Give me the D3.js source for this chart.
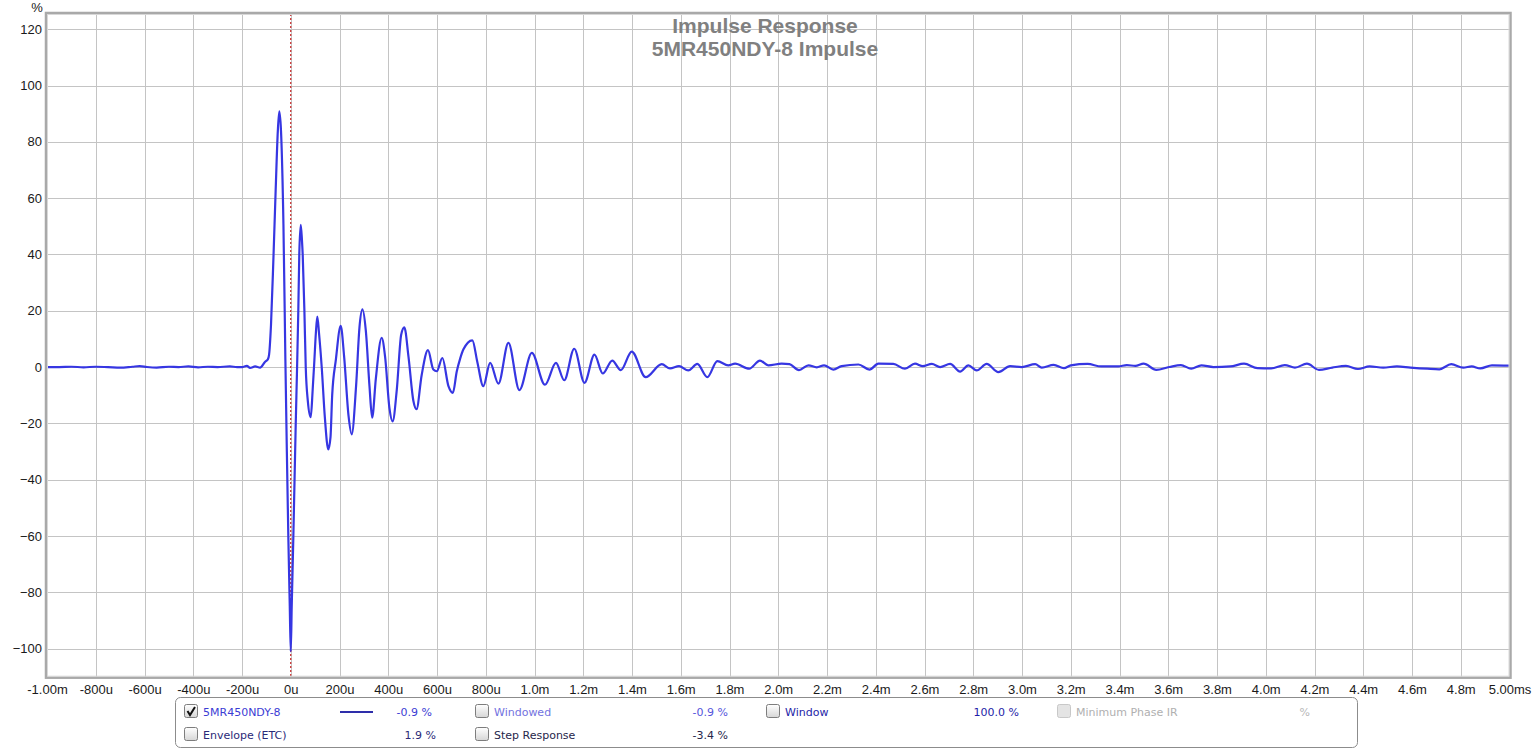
<!DOCTYPE html>
<html>
<head>
<meta charset="utf-8">
<script src="https://cdn.jsdelivr.net/npm/d3@7/dist/d3.min.js"></script>
<style>
  html, body { margin: 0; padding: 0; background: #ffffff; }
  svg { display: block; font-family: "Liberation Sans", Arial, sans-serif; }
</style>
</head>
<body>
<svg id="chart" width="1532" height="749"></svg>
<script>
// ---------------- DATA ----------------
const titleLines = ["Impulse Response", "5MR450NDY-8 Impulse"];
const yUnit = "%";

// time in microseconds
const timeUs = [
  -1000, -950, -900, -850, -800, -750, -700, -650, -620, -590, -550, -500, -460, -420, -380, -340, -300, -250, -220, -200,
  -180, -167, -146, -126, -105, -94, -89, -81, -71, -62, -53, -47, -40, -30, -22, -16, -10, -4, 0,
  4, 10.7, 20.5, 26, 31, 35, 41, 46, 49, 56, 61.5, 70, 82, 90, 97, 103, 109, 116, 127, 140, 154, 163, 170, 185,
  205, 219, 237, 250, 268, 282, 294, 308, 323, 334, 349, 373, 387, 405, 418, 435, 453, 466, 483, 503, 516, 537,
  563, 585, 599, 622, 647, 665, 681, 695, 708, 745, 765, 790, 818, 852, 893, 938, 989, 1043, 1088, 1122, 1163,
  1205, 1246, 1280, 1319, 1354, 1399, 1456, 1522, 1556, 1593, 1631, 1668, 1709, 1750, 1795, 1823, 1881, 1925,
  1959, 2014, 2046, 2085, 2124, 2158, 2188, 2226, 2260, 2329, 2374, 2411, 2472, 2520, 2561, 2593, 2630, 2664,
  2705, 2746, 2780, 2814, 2855, 2903, 2951, 2999, 3054, 3081, 3130, 3172, 3200, 3269, 3325, 3395, 3430, 3465,
  3499, 3551, 3604, 3652, 3694, 3736, 3785, 3855, 3911, 3966, 4022, 4078, 4120, 4169, 4218, 4273, 4329, 4378,
  4426, 4482, 4538, 4594, 4663, 4712, 4761, 4810, 4845, 4880, 4928, 5000
];
// impulse amplitude in %
const amplitude = [
  0, 0, 0.1, -0.1, 0.1, 0, -0.2, 0.1, 0.3, 0, -0.2, 0.1, 0, 0.2, -0.1, 0.1, 0, 0.2, 0, 0,
  0.4, -0.3, 0.2, -0.2, 1.9, 2.7, 4.3, 15, 38.8, 62.5, 83.9, 90.8, 83.9, 50.6, 2.5, -30, -60, -85, -101,
  -85, -60, -20, 0, 20, 40, 50.5, 45, 40, 20, 0, -12, -17.8, -8, 2.5, 12, 17.9, 12, 0, -18, -29.3, -25, -10, 2.5,
  14.6, 3.7, -17.3, -23.9, -6.8, 14.2, 20.5, 12.9, -6.8, -18, -4.2, 10.4, 3.7, -14.7, -19.3, -8.1, 11.5, 14.1, 3.7, -12, -15, -2.9,
  6.0, -0.9, -1.5, 3.2, -6.8, -9.2, -1.6, 3.0, 6.2, 9.5, 2, -6.8, 1.5, -5.9, 8.6, -8.2, 5.0, -6.3, 1.5, -4.7, 6.5,
  -5.6, 4.4, -2.3, 2.3, -1.1, 5.5, -3.6, 1.0, -0.5, 0.3, -1.2, 1.1, -3.6, 2.1, 0.6, 1.2, -0.6, 2.3,
  0.6, 1.2, 1.0, -1.1, 0.6, -0.1, 0.6, -0.9, 0.3, 0.9, -0.9, 1.2, 1.1, -0.6, 1.2, 0.3, 1.1, 0,
  1.1, -1.6, 0.6, -1.2, 1.1, -1.8, 0.3, 0, 1.0, -0.2, 0.8, -0.4, 0.6, 1.1, 0.2, 0.2, 0.7, 0.4,
  1.2, -1.0, 0, 0.7, -0.6, 0.6, 0, 0.2, 1.2, -0.4, -0.5, 0.7, -0.2, 1.2, -1.0, -0.2, 0.4, -0.7,
  0.2, -0.2, 0.2, -0.2, -0.6, -0.8, 1.0, -0.2, 0.2, -0.5, 0.6, 0.5
];

const xTickValues = [-1000, -800, -600, -400, -200, 0, 200, 400, 600, 800, 1000, 1200, 1400, 1600, 1800, 2000,
  2200, 2400, 2600, 2800, 3000, 3200, 3400, 3600, 3800, 4000, 4200, 4400, 4600, 4800, 5000];
const xTickLabels = ["-1.00m", "-800u", "-600u", "-400u", "-200u", "0u", "200u", "400u", "600u", "800u", "1.0m",
  "1.2m", "1.4m", "1.6m", "1.8m", "2.0m", "2.2m", "2.4m", "2.6m", "2.8m", "3.0m", "3.2m", "3.4m", "3.6m", "3.8m",
  "4.0m", "4.2m", "4.4m", "4.6m", "4.8m", "5.00ms"];
const yTickValues = [-100, -80, -60, -40, -20, 0, 20, 40, 60, 80, 100, 120];
const yDomain = [-110, 125.4];

// legend contents
const legendLabels = ["5MR450NDY-8", "Windowed", "Window", "Minimum Phase IR", "Envelope (ETC)", "Step Response"];
const legendValues = ["-0.9 %", "-0.9 %", "100.0 %", "%", "1.9 %", "-3.4 %"];
const legendChecked = [true, false, false, false, false, false];
const legendEnabled = [true, true, true, false, true, true];

// ---------------- LAYOUT ----------------
const svg = d3.select("#chart");
const plot = { left: 47, right: 1509.5, top: 14, bottom: 676.7 };

const x = d3.scaleLinear().domain([-1000, 5000]).range([plot.left, plot.right]);
const y = d3.scaleLinear().domain(yDomain).range([plot.bottom, plot.top]);

// plot background
svg.append("rect").attr("x", plot.left).attr("y", plot.top)
  .attr("width", plot.right - plot.left).attr("height", plot.bottom - plot.top)
  .attr("fill", "#ffffff");

// vertical grid + x labels
const xAxis = d3.axisBottom(x).tickValues(xTickValues)
  .tickFormat((d, i) => xTickLabels[i])
  .tickSize(-(plot.bottom - plot.top)).tickPadding(8);
const gx = svg.append("g").attr("transform", `translate(0,${plot.bottom})`).call(xAxis);
gx.select(".domain").remove();
gx.selectAll("line").attr("stroke", "#c4c4c4").attr("stroke-width", 1)
  .attr("shape-rendering", "crispEdges");
gx.selectAll("text").attr("font-size", 13).attr("fill", "#1a1a1a")
  .attr("font-family", "'Liberation Sans', Arial, sans-serif");

// horizontal grid + y labels
const yAxis = d3.axisLeft(y).tickValues(yTickValues)
  .tickSize(-(plot.right - plot.left)).tickPadding(5);
const gy = svg.append("g").attr("transform", `translate(${plot.left},0)`).call(yAxis);
gy.select(".domain").remove();
gy.selectAll("line").attr("stroke", "#c4c4c4").attr("stroke-width", 1)
  .attr("shape-rendering", "crispEdges");
gy.selectAll("text").attr("font-size", 13).attr("fill", "#1a1a1a")
  .attr("font-family", "'Liberation Sans', Arial, sans-serif");

// unit label
svg.append("text").attr("x", 37).attr("y", 11.5).attr("text-anchor", "middle")
  .attr("font-size", 13).attr("fill", "#1a1a1a").text(yUnit);

// title
svg.selectAll("text.title").data(titleLines).enter().append("text")
  .attr("class", "title")
  .attr("x", 765).attr("y", (d, i) => 33 + i * 23)
  .attr("text-anchor", "middle").attr("font-size", 21).attr("font-weight", "bold")
  .attr("fill", "#808080").text(d => d);

// red dashed zero-time marker
svg.append("line").attr("x1", x(0)).attr("x2", x(0))
  .attr("y1", plot.top).attr("y2", plot.bottom)
  .attr("stroke", "#c00000").attr("stroke-width", 1).attr("stroke-dasharray", "2,2");

// impulse curve
const pts = timeUs.map((t, i) => [t, amplitude[i]]);
const line = d3.line().x(d => x(d[0])).y(d => y(d[1])).curve(d3.curveMonotoneX);
svg.append("path").datum(pts).attr("d", line)
  .attr("fill", "none").attr("stroke", "#3636e2").attr("stroke-width", 2.2)
  .attr("stroke-linejoin", "round");

// frame
svg.append("rect").attr("x", plot.left - 1).attr("y", plot.top - 1)
  .attr("width", plot.right - plot.left + 2).attr("height", plot.bottom - plot.top + 2)
  .attr("fill", "none").attr("stroke", "#a9a9a9").attr("stroke-width", 2.5);
svg.append("rect").attr("x", plot.left + 0.5).attr("y", plot.top + 0.5)
  .attr("width", plot.right - plot.left - 1).attr("height", plot.bottom - plot.top - 1)
  .attr("fill", "none").attr("stroke", "#d8d8d8").attr("stroke-width", 1);

// ---------------- LEGEND ----------------
const defs = svg.append("defs");
const grad = defs.append("linearGradient").attr("id", "cbGrad").attr("x1", 0).attr("y1", 0).attr("x2", 0).attr("y2", 1);
grad.append("stop").attr("offset", "0%").attr("stop-color", "#ffffff");
grad.append("stop").attr("offset", "100%").attr("stop-color", "#d6d6d6");

svg.append("rect").attr("x", 175.5).attr("y", 697.5).attr("width", 1182).attr("height", 50)
  .attr("rx", 5).attr("ry", 5).attr("fill", "#ffffff").attr("stroke", "#8c8c8c").attr("stroke-width", 1);

// slot positions: [checkbox x, label x, value right x, row y]
const slots = [
  [184, 203, 432, 712],
  [475, 494, 728, 712],
  [766, 785, 1019, 712],
  [1057, 1076, 1310, 712],
  [184, 203, 436, 735],
  [475, 494, 728, 735]
];
const labelColors = ["#3c3cd4", "#7272e0", "#1e1ea8", "#b0b0b0", "#2a2a78", "#26264a"];
const valueColors = ["#3c3cd4", "#5555dc", "#1e1ea8", "#b8b8b8", "#2a2a78", "#26264a"];

legendLabels.forEach((lab, i) => {
  const [cx, lx, vx, ry] = slots[i];
  const g = svg.append("g");
  g.append("rect").attr("x", cx + 0.5).attr("y", ry - 7.5).attr("width", 13).attr("height", 13)
    .attr("rx", 2).attr("fill", legendEnabled[i] ? "url(#cbGrad)" : "#e4e4e4")
    .attr("stroke", legendEnabled[i] ? "#7d7d7d" : "#c8c8c8");
  if (legendChecked[i]) {
    g.append("path")
      .attr("d", `M${cx + 3.5},${ry - 1} L${cx + 6},${ry + 3} L${cx + 11},${ry - 5}`)
      .attr("fill", "none").attr("stroke", "#111").attr("stroke-width", 2);
  }
  g.append("text").attr("x", lx).attr("y", ry + 4).attr("font-size", 11)
    .attr("font-family", "'DejaVu Sans', 'Liberation Sans', sans-serif")
    .attr("fill", labelColors[i]).text(lab);
  g.append("text").attr("x", vx).attr("y", ry + 4).attr("font-size", 11)
    .attr("font-family", "'DejaVu Sans', 'Liberation Sans', sans-serif")
    .attr("text-anchor", "end").attr("fill", valueColors[i]).text(legendValues[i]);
});
// series line sample
svg.append("line").attr("x1", 340).attr("x2", 373).attr("y1", 712).attr("y2", 712)
  .attr("stroke", "#2e2eaa").attr("stroke-width", 2);
</script>
</body>
</html>
